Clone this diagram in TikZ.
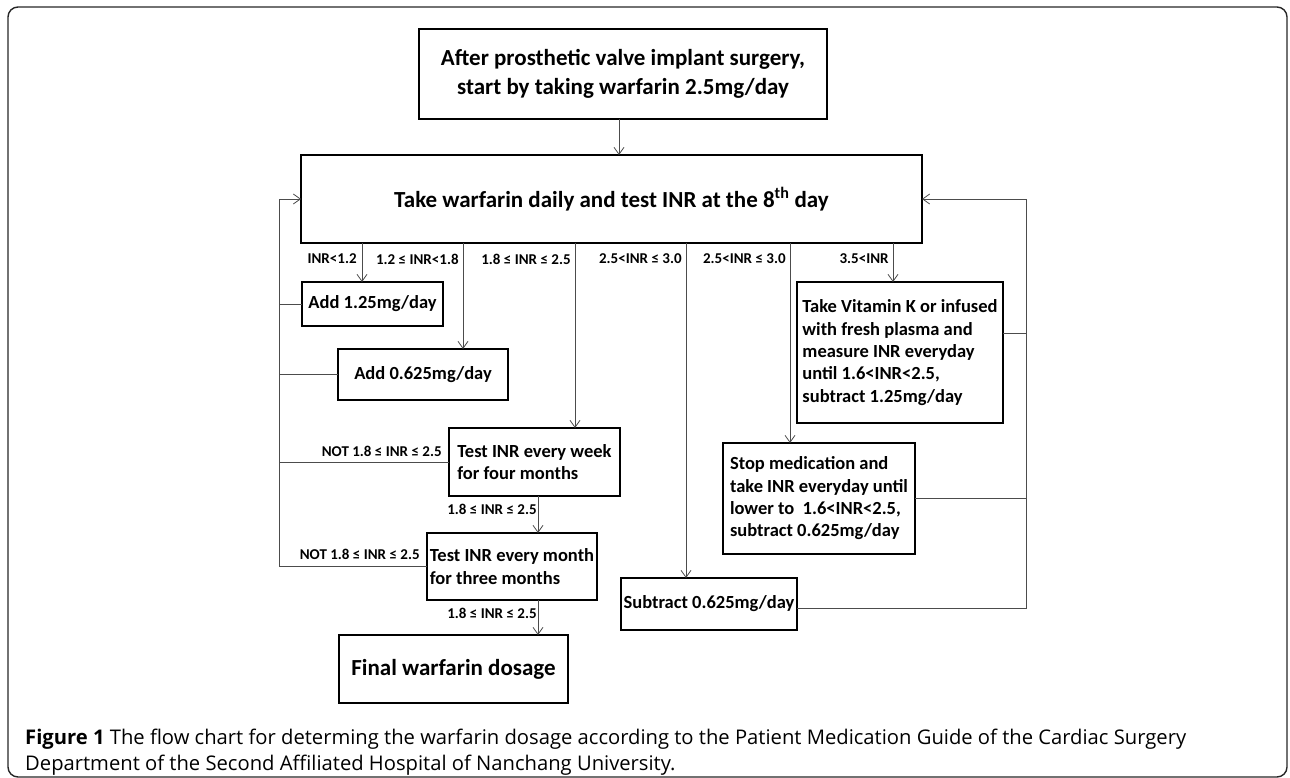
\documentclass[tikz,border=0pt]{standalone}
\usepackage{fontspec}
\setmainfont{Carlito}
\newfontfamily\captionfont{Open Sans}
\usetikzlibrary{positioning, arrows.meta}

\begin{document}
\begin{tikzpicture}[x=1pt, y=-1pt]
\tikzstyle{box} = [rectangle, draw=black, line width=2pt, outer sep=0pt, align=left, inner sep=2pt, font=\bfseries\fontsize{18.5}{22.3}\selectfont]
\tikzstyle{headbox} = [box, align=center, font=\bfseries\fontsize{23}{29}\selectfont]
\tikzstyle{cond} = [inner sep=1pt, font=\bfseries\fontsize{15}{17}\selectfont]
\tikzstyle{line} = [draw=black!70, line width=0.8pt]
\tikzstyle{arrow} = [line, -{Straight Barb[length=7pt,width=10pt]}]

\useasboundingbox (0,0) rectangle (1290,778);
\draw [rounded corners=10pt, line width=1.4pt, draw=black!85] (8,7) rectangle (1287,777);

\node (start) [headbox, minimum width=408pt, minimum height=90pt] at (623,74) {After prosthetic valve implant surgery,\\start by taking warfarin 2.5mg/day};
\node (daily) [headbox, minimum width=621pt, minimum height=88pt, below=36pt of start, xshift=-11.5pt] {Take warfarin daily and test INR at the 8\textsuperscript{th} day};

\node (add1) [box, minimum width=141pt, minimum height=44pt, below=39pt of daily.south west, anchor=north west, xshift=1pt] {Add 1.25mg/day};
\node (add2) [box, minimum width=170pt, minimum height=51pt, below=23pt of add1.south west, anchor=north west, xshift=36pt] {Add 0.625mg/day};
\node (week) [box, minimum width=171pt, minimum height=68pt, below=28pt of add2.south west, anchor=north west, xshift=111pt] {Test INR every week\\for four months};
\node (month) [box, minimum width=170pt, minimum height=67pt, below=37pt of week.south west, anchor=north west, xshift=-22pt] {Test INR every month\\for three months};
\node (final) [box, minimum width=229pt, minimum height=68pt, below=35pt of month.south west, anchor=north west, xshift=-88pt, font=\bfseries\fontsize{23}{27}\selectfont] {Final warfarin dosage};

\node (vitk) [box, minimum width=206pt, minimum height=141pt, below=39pt of daily.south east, anchor=north east, xshift=81pt] {Take Vitamin K or infused\\with fresh plasma and\\measure INR everyday\\until 1.6<INR<2.5,\\subtract 1.25mg/day};
\node (stop) [box, minimum width=192pt, minimum height=111pt, below=20pt of vitk.south west, anchor=north west, xshift=-74pt] {Stop medication and\\take INR everyday until\\lower to\ \ 1.6<INR<2.5,\\subtract 0.625mg/day};
\node (sub) [box, minimum width=176pt, minimum height=52pt, below=24pt of stop.south west, anchor=north west, xshift=-102pt] {Subtract 0.625mg/day};

\node (caption) [anchor=north west, align=left, inner sep=0pt, font=\captionfont\fontsize{20.2}{26}\selectfont] at (25,729) {\textbf{Figure 1} The flow chart for determing the warfarin dosage according to the Patient Medication Guide of the Cardiac Surgery\\Department of the Second Affiliated Hospital of Nanchang University.};

% branch points on the bottom of the daily box
\coordinate (b1) at ([xshift=61pt]daily.south west);
\coordinate (b2) at ([xshift=162pt]daily.south west);
\coordinate (b3) at ([xshift=274pt]daily.south west);
\coordinate (b4) at ([xshift=385pt]daily.south west);
\coordinate (b5) at ([xshift=489pt]daily.south west);
\coordinate (b6) at ([xshift=592pt]daily.south west);
\coordinate (lret) at ([xshift=-22pt]daily.west);
\coordinate (rret) at ([xshift=104pt]daily.east);
\coordinate (vkout) at ([yshift=19.5pt]vitk.east);
\coordinate (wk) at ([xshift=3.5pt]week.south);
\coordinate (mo) at ([xshift=26pt]month.south);
\coordinate (st) at ([xshift=-4pt]start.south);

\draw [arrow] (st) -- (st |- daily.north);

\draw [arrow] (b1) node [cond, anchor=east, xshift=-4pt, yshift=-16pt] {INR<1.2} -- (b1 |- add1.north);
\draw [arrow] (b2) node [cond, anchor=east, xshift=-3pt, yshift=-16pt] {1.2 ≤ INR<1.8} -- (b2 |- add2.north);
\draw [arrow] (b3) node [cond, anchor=east, xshift=-3pt, yshift=-16pt] {1.8 ≤ INR ≤ 2.5} -- (b3 |- week.north);
\draw [arrow] (b4) node [cond, anchor=east, xshift=-3pt, yshift=-16pt] {2.5<INR ≤ 3.0} -- (b4 |- sub.north);
\draw [arrow] (b5) node [cond, anchor=east, xshift=-3pt, yshift=-16pt] {2.5<INR ≤ 3.0} -- (b5 |- stop.north);
\draw [arrow] (b6) node [cond, anchor=east, xshift=-3pt, yshift=-16pt] {3.5<INR} -- (b6 |- vitk.north);

\draw [arrow] (wk) -- node [cond, left, pos=0.36] {1.8 ≤ INR ≤ 2.5} (wk |- month.north);
\draw [arrow] (mo) -- node [cond, left, pos=0.39] {1.8 ≤ INR ≤ 2.5} (mo |- final.north);

% back to the daily test
\draw [line] (add1.west) -- (add1.west -| lret);
\draw [line] (add2.west) -- (add2.west -| lret);
\draw [line] (week.west) node [cond, anchor=south east, xshift=-6pt, yshift=4pt] {NOT 1.8 ≤ INR ≤ 2.5} -- (week.west -| lret);
\draw [arrow] (month.west) node [cond, anchor=south east, xshift=-6pt, yshift=5pt] {NOT 1.8 ≤ INR ≤ 2.5} -| (lret) -- (daily.west);

\draw [line] (vkout) -- (vkout -| rret);
\draw [line] (stop.east) -- (stop.east -| rret);
\draw [arrow] ([yshift=-4pt]sub.east) -| (rret) -- (daily.east);
\end{tikzpicture}
\end{document}
